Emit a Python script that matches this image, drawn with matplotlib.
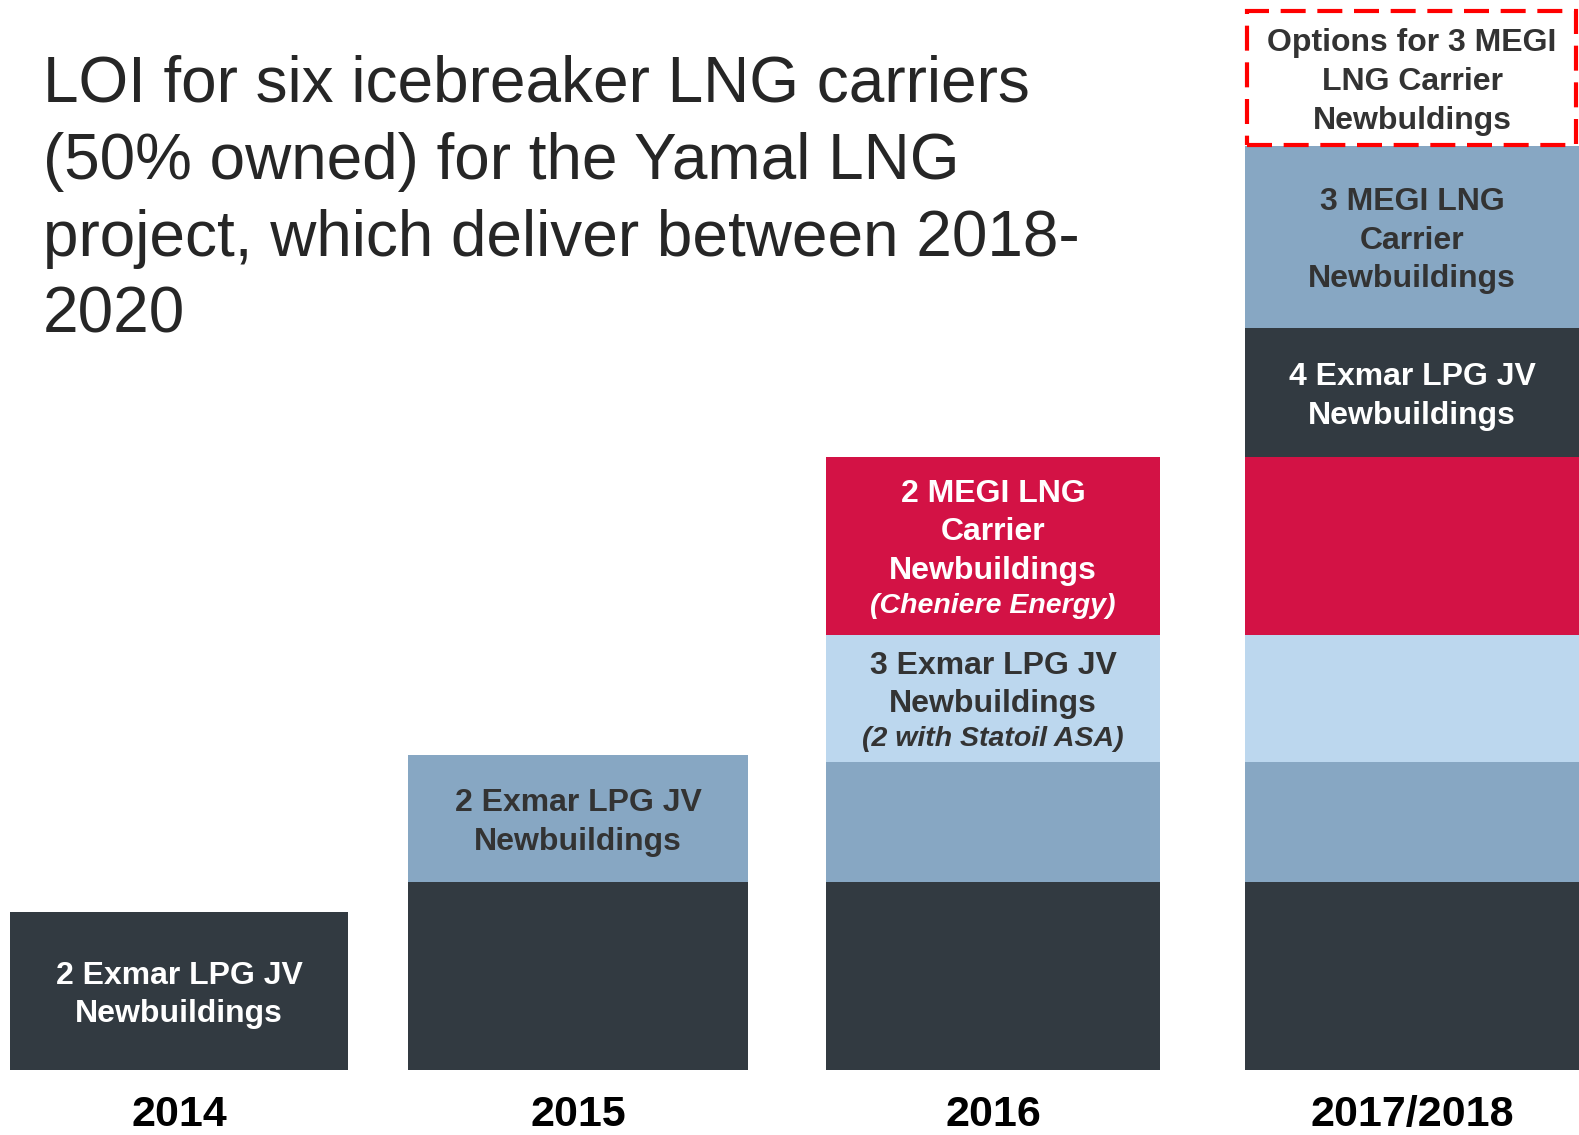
import matplotlib.pyplot as plt
import numpy as np

plt.rcParams['font.family'] = ['Liberation Sans', 'DejaVu Sans']

# data: bar categories and stacked segment heights (bottom to top)
years = ['2014', '2015', '2016', '2017/2018']
lpg_first = [158, 188, 188, 188]     # dark
lpg_second = [0, 127, 120, 120]      # blue grey
lpg_third = [0, 0, 127, 127]         # light blue
megi_first = [0, 0, 178, 178]        # red
lpg_fourth = [0, 0, 0, 129]          # dark
megi_second = [0, 0, 0, 182]         # blue grey
megi_options = [0, 0, 0, 134]        # dashed box

layers = [lpg_first, lpg_second, lpg_third, megi_first, lpg_fourth, megi_second]
colors = ['#323A41', '#87A7C3', '#BCD7EE', '#D31245', '#323A41', '#87A7C3']

# labels: (bar index, layer index) -> lines (text, italic, colour)
W, D = 'white', '#333333'
labels = {
    (0, 0): [('2 Exmar LPG JV', False, W), ('Newbuildings', False, W)],
    (1, 1): [('2 Exmar LPG JV', False, D), ('Newbuildings', False, D)],
    (2, 3): [('2 MEGI LNG', False, W), ('Carrier', False, W),
             ('Newbuildings', False, W), ('(Cheniere Energy)', True, W)],
    (2, 2): [('3 Exmar LPG JV', False, D), ('Newbuildings', False, D),
             ('(2 with Statoil ASA)', True, D)],
    (3, 5): [('3 MEGI LNG', False, D), ('Carrier', False, D),
             ('Newbuildings', False, D)],
    (3, 4): [('4 Exmar LPG JV', False, W), ('Newbuildings', False, W)],
    (3, 6): [('Options for 3 MEGI', False, D), ('LNG Carrier', False, D),
             ('Newbuldings', False, D)],
}

title = ('LOI for six icebreaker LNG carriers\n(50% owned) for the Yamal LNG\n'
         'project, which deliver between 2018-\n2020')

# layout (pixels)
bar_left = np.array([10, 408, 826, 1245])
bar_width = np.array([338, 340, 334, 334])
centers = bar_left + bar_width / 2

fig = plt.figure(figsize=(15.79, 11.35), dpi=100)
ax = fig.add_axes([0, 0, 1, 1])
ax.set_xlim(0, 1579)
ax.set_ylim(-65, 1070)
ax.axis('off')

bottom = np.zeros(len(years))
seg_mid = {}
for li, (vals, c) in enumerate(zip(layers, colors)):
    vals = np.array(vals, dtype=float)
    ax.bar(bar_left, vals, width=bar_width, bottom=bottom, align='edge',
           color=c, edgecolor='none')
    for bi in range(len(years)):
        if vals[bi] > 0:
            seg_mid[(bi, li)] = bottom[bi] + vals[bi] / 2
    bottom += vals

# dashed options box on top (only where there are options)
opt = np.array(megi_options, dtype=float)
has = opt > 0
ax.bar(bar_left[has] + 2, opt[has], width=bar_width[has] - 5,
       bottom=bottom[has] + 1, align='edge', fill=False, edgecolor='#FF0000',
       linewidth=3, linestyle=(0, (6, 2.8)))
for bi in np.where(has)[0]:
    seg_mid[(bi, 6)] = bottom[bi] + 1 + opt[bi] / 2

# segment labels
step_main, step_it = 38.5, 35.5
for (bi, li), lines in labels.items():
    offs = [0.0]
    for k in range(1, len(lines)):
        offs.append(offs[-1] + (step_it if lines[k][1] else step_main))
    mid = (offs[0] + offs[-1]) / 2
    for (txt, it, col), o in zip(lines, offs):
        ax.text(centers[bi], seg_mid[(bi, li)] + mid - o - 4, txt,
                ha='center', va='center', color=col, fontweight='bold',
                fontstyle='italic' if it else 'normal',
                fontsize=20.5 if it else 23)

# year labels
for x, y in zip(centers, years):
    ax.text(x, -45, y, ha='center', va='center', fontsize=31,
            fontweight='bold', color='black')

ax.text(43, 1015, title, ha='left', va='top', fontsize=46, color='#262626',
        linespacing=1.36)

fig.savefig('out.png', dpi=100)
